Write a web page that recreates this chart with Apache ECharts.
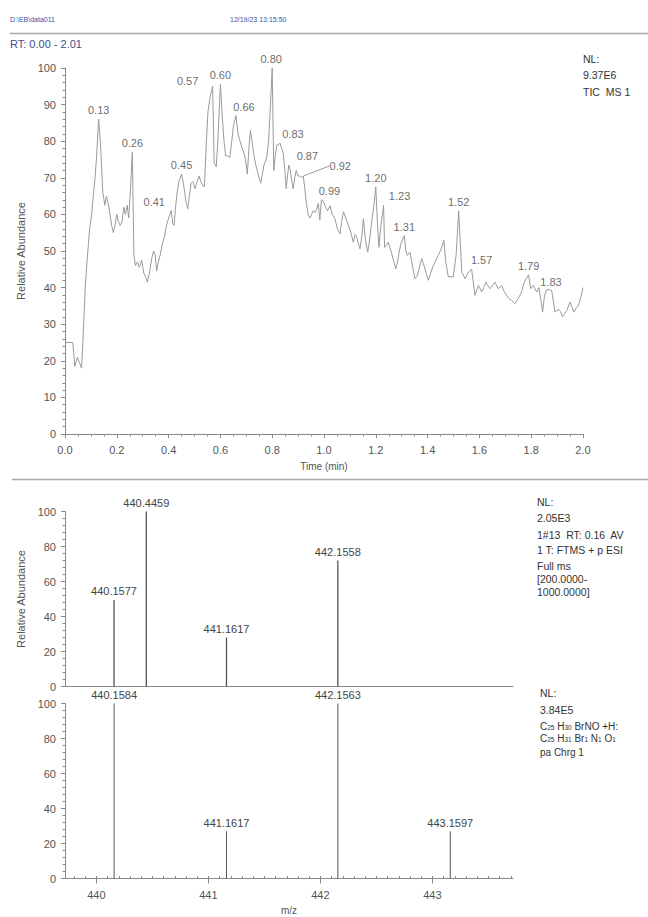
<!DOCTYPE html>
<html>
<head>
<meta charset="utf-8">
<script src="https://cdn.jsdelivr.net/npm/echarts@6/dist/echarts.min.js"></script>
<style>
  html, body { margin: 0; padding: 0; background: #fff; }
  #chart { width: 648px; height: 917px; }
</style>
</head>
<body>
<div id="chart"></div>
<script>
// Total ion chromatogram (retention time in min, relative abundance in %)
const ticTimes = [
  0.000, 0.010, 0.020, 0.030, 0.038, 0.048, 0.056, 0.064, 0.071, 0.078, 0.086, 0.095, 0.103, 0.109, 0.116, 0.122,
  0.130, 0.138, 0.146, 0.154, 0.160, 0.167, 0.174, 0.180, 0.187, 0.193, 0.200, 0.206, 0.213, 0.220, 0.227, 0.233,
  0.240, 0.246, 0.252, 0.260, 0.266, 0.272, 0.280, 0.287, 0.296, 0.304, 0.311, 0.318, 0.326, 0.335, 0.342, 0.348,
  0.354, 0.360, 0.368, 0.376, 0.384, 0.392, 0.400, 0.410, 0.416, 0.421, 0.427, 0.433, 0.440, 0.450, 0.456, 0.462,
  0.468, 0.474, 0.480, 0.487, 0.494, 0.502, 0.510, 0.518, 0.524, 0.532, 0.538, 0.546, 0.552, 0.560, 0.570, 0.576,
  0.584, 0.590, 0.600, 0.608, 0.614, 0.620, 0.628, 0.636, 0.644, 0.650, 0.660, 0.668, 0.676, 0.684, 0.690, 0.697,
  0.704, 0.710, 0.716, 0.722, 0.728, 0.735, 0.742, 0.749, 0.756, 0.762, 0.768, 0.774, 0.780, 0.786, 0.792, 0.800,
  0.806, 0.812, 0.818, 0.824, 0.830, 0.837, 0.843, 0.849, 0.854, 0.860, 0.864, 0.870, 0.876, 0.881, 0.887, 0.893,
  0.899, 0.906, 0.913, 0.920, 0.926, 0.932, 0.939, 0.946, 0.952, 0.958, 0.965, 0.972, 0.978, 0.984, 0.990, 0.998,
  1.006, 1.014, 1.023, 1.032, 1.042, 1.052, 1.062, 1.068, 1.075, 1.084, 1.094, 1.104, 1.113, 1.120, 1.126, 1.133,
  1.139, 1.146, 1.152, 1.160, 1.169, 1.176, 1.184, 1.192, 1.200, 1.206, 1.212, 1.218, 1.230, 1.234, 1.240, 1.248,
  1.254, 1.260, 1.268, 1.277, 1.284, 1.290, 1.297, 1.310, 1.316, 1.322, 1.332, 1.340, 1.351, 1.358, 1.364, 1.370,
  1.377, 1.384, 1.390, 1.396, 1.403, 1.412, 1.422, 1.432, 1.441, 1.452, 1.463, 1.470, 1.480, 1.490, 1.499, 1.510,
  1.520, 1.532, 1.545, 1.557, 1.570, 1.583, 1.596, 1.609, 1.617, 1.625, 1.633, 1.641, 1.650, 1.660, 1.673, 1.686,
  1.695, 1.705, 1.714, 1.724, 1.737, 1.750, 1.763, 1.773, 1.790, 1.798, 1.808, 1.821, 1.830, 1.844, 1.850, 1.857,
  1.868, 1.879, 1.892, 1.905, 1.913, 1.921, 1.930, 1.937, 1.950, 1.958, 1.965, 1.975, 1.982, 1.992, 2.000
];
const ticValues = [
  25, 25, 25, 25, 18.5, 21, 19.5, 18, 28, 40, 48, 56, 60, 65, 70, 76,
  86, 78, 66, 62.5, 65, 63, 60, 57, 55, 57, 60, 58, 57, 58, 62, 60,
  62.5, 59, 66, 77, 49, 46, 47, 45.5, 47.5, 44, 43, 41.5, 44, 48, 50, 49,
  44.5, 47, 49, 52, 54, 57, 59, 61, 57.5, 57, 62, 66, 69, 71, 69, 66,
  63, 61.5, 65, 68.5, 69, 67, 69, 70.5, 69, 68, 67.5, 80, 88, 92, 95, 74,
  73, 80, 95.5, 86, 80, 76, 76, 75.5, 80, 84, 87, 82, 80, 78, 77, 75,
  71, 78, 83, 80, 77, 74, 72, 70, 68.5, 71, 73.5, 74.5, 76, 80, 88, 100,
  72, 76, 79, 79, 79.5, 78, 76.5, 72, 67, 71, 73.5, 72, 69, 67, 70, 72,
  70.5, 70.5, 70, 70.5, 67, 63, 60, 59, 60, 61, 60.5, 61.5, 63, 58.5, 64, 63.5,
  62, 61, 62.4, 60, 58.8, 56, 54.7, 58, 60.7, 59, 57, 55, 52.4, 54.5, 53.8, 52,
  50.6, 54, 58.8, 53, 49.7, 53, 58, 62, 67.5, 58, 51, 56, 62.5, 51, 51.5, 52.4,
  51, 49.7, 47.5, 45.1, 47, 49.7, 52, 54.2, 50, 48.8, 49.7, 46.5, 42.4, 43, 44.2, 46,
  47.9, 46.5, 45.1, 43.5, 42, 44, 46, 47.5, 48.8, 50.5, 52.9, 47, 42.9, 43, 42.9, 48.8,
  61, 44.2, 42.4, 44.2, 45, 37.9, 40.6, 38.8, 40, 41.5, 40.5, 39.7, 40.5, 41.5, 39.7, 40.6,
  39, 37.9, 37, 36.5, 35.6, 37, 38.8, 41.5, 43.5, 39.7, 40.6, 38.8, 40, 33.3, 37, 39.2,
  39.5, 39.2, 33.3, 34.1, 33.5, 32, 33, 33.7, 36, 34.5, 33.3, 34.5, 35, 37.5, 40
];
// Retention times of the annotated peaks
const peakTimes = [0.13, 0.26, 0.41, 0.45, 0.57, 0.60, 0.66, 0.80, 0.83, 0.87, 0.92, 0.99,
                   1.20, 1.23, 1.31, 1.52, 1.57, 1.79, 1.83];

// Measured spectrum (scan 13, RT 0.16)
const measuredMz = [440.1577, 440.4459, 441.1617, 442.1558];
const measuredAbund = [49.5, 100, 28, 72];
// Simulated isotope pattern for C25H31BrNO
const theoryMz = [440.1584, 441.1617, 442.1563, 443.1597];
const theoryAbund = [100, 27, 100, 27];
// m/z tick labels
const mzTicks = [440, 441, 442, 443];

const FONT = "'Liberation Sans', Arial, sans-serif";
const AX = '#8a8a8a';
const TXT = '#444';

// Label nudges [dx, dy] so crowded peak labels do not collide
const labelNudge = {
  '0.41': [-17, 0], '0.57': [-25, 4], '0.66': [8, 0], '0.80': [-1, 0], '0.83': [13, 0],
  '0.87': [17, -5], '0.92': [37, -1], '0.99': [8, 0], '1.23': [16, 0], '1.57': [10, 0], '1.83': [12, 3]
};

const ticData = ticTimes.map((t, i) => [t, ticValues[i]]);
const peakData = peakTimes.map(t => {
  const i = ticTimes.findIndex(v => Math.abs(v - t) < 1e-9);
  const item = { value: [t, ticValues[i]] };
  if (t === 0.92) item.labelLine = { show: true, lineStyle: { color: '#999', width: 1 } };
  return item;
});

const mzMin = 439.72, mzMax = 443.72;
const mzMinor = [];
for (let k = 4398; k <= 4437; k++) mzMinor.push(k / 10);

function valueAxisY(grid, interval, minorSplit, withName) {
  return {
    gridIndex: grid, type: 'value', min: 0, max: 100, interval: interval,
    axisLine: { show: true, lineStyle: { color: AX, width: 1 } },
    axisTick: { show: true, length: 4, lineStyle: { color: AX } },
    minorTick: { show: true, splitNumber: minorSplit, length: 2.5, lineStyle: { color: AX } },
    splitLine: { show: false },
    axisLabel: { color: '#555', fontSize: 11, fontFamily: FONT, margin: 9 },
    name: withName ? 'Relative Abundance' : '',
    nameLocation: 'middle', nameGap: 35, nameRotate: 90,
    nameTextStyle: { color: '#555', fontSize: 11, fontFamily: FONT }
  };
}

function stickSeries(xi, yi, mz, ab, width) {
  return {
    type: 'custom', xAxisIndex: xi, yAxisIndex: yi,
    data: mz.map((m, i) => [m, ab[i]]),
    silent: true,
    renderItem: function (params, api) {
      const m = api.value(0), a = api.value(1);
      const top = api.coord([m, a]);
      const base = api.coord([m, 0]);
      return {
        type: 'group',
        children: [
          { type: 'line', shape: { x1: top[0], y1: top[1], x2: base[0], y2: base[1] },
            style: { stroke: '#555', lineWidth: width } },
          { type: 'text', x: top[0], y: top[1] - 3,
            style: { text: m.toFixed(4), fill: TXT, font: '11px ' + FONT, align: 'center', verticalAlign: 'bottom' } }
        ]
      };
    }
  };
}

function sideText(x, y, text, extra) {
  return Object.assign({
    type: 'text', x: x, y: y, silent: true,
    style: { text: text, fill: '#333', font: '10.5px ' + FONT, verticalAlign: 'middle' }
  }, extra || {});
}

// Formula line with subscript counts
const formulaRich = {
  a: { fill: '#333', font: '10px ' + FONT, lineHeight: 11, verticalAlign: 'bottom' },
  b: { fill: '#333', font: '6.5px ' + FONT, lineHeight: 11, verticalAlign: 'bottom' }
};

const chart = echarts.init(document.getElementById('chart'), null, { renderer: 'svg' });

chart.setOption({
  animation: false,
  backgroundColor: '#fff',
  grid: [
    { left: 65, top: 68, width: 518, height: 366 },
    { left: 65, top: 511.5, width: 448, height: 175 },
    { left: 65, top: 703.5, width: 448, height: 175 }
  ],
  xAxis: [
    {
      gridIndex: 0, type: 'value', min: 0, max: 2, interval: 0.2,
      axisLine: { show: true, onZero: false, lineStyle: { color: AX } },
      axisTick: { show: true, length: 4, lineStyle: { color: AX } },
      minorTick: { show: true, splitNumber: 4, length: 2.5, lineStyle: { color: AX } },
      splitLine: { show: false },
      axisLabel: { color: '#555', fontSize: 11, fontFamily: FONT, margin: 10, formatter: v => v.toFixed(1) },
      name: 'Time (min)', nameLocation: 'middle', nameGap: 27,
      nameTextStyle: { color: '#555', fontSize: 10, fontFamily: FONT }
    },
    {
      gridIndex: 1, type: 'value', min: mzMin, max: mzMax,
      axisLine: { show: true, onZero: false, lineStyle: { color: AX } },
      axisTick: { show: false }, axisLabel: { show: false }, splitLine: { show: false }
    },
    {
      gridIndex: 2, type: 'value', min: mzMin, max: mzMax,
      axisLine: { show: true, onZero: false, lineStyle: { color: AX } },
      axisTick: { show: true, length: 5, customValues: mzTicks, lineStyle: { color: AX } },
      axisLabel: { color: '#555', fontSize: 11, fontFamily: FONT, margin: 11, customValues: mzTicks },
      splitLine: { show: false },
      name: 'm/z', nameLocation: 'middle', nameGap: 27,
      nameTextStyle: { color: '#555', fontSize: 10, fontFamily: FONT }
    },
    {
      gridIndex: 2, type: 'value', min: mzMin, max: mzMax,
      axisLine: { show: false },
      axisTick: { show: true, length: 2.5, customValues: mzMinor, lineStyle: { color: AX } },
      axisLabel: { show: false }, splitLine: { show: false }
    }
  ],
  yAxis: [
    valueAxisY(0, 10, 5, true),
    valueAxisY(1, 20, 5, true),
    valueAxisY(2, 20, 5, false)
  ],
  series: [
    {
      type: 'line', xAxisIndex: 0, yAxisIndex: 0, data: ticData,
      showSymbol: false, silent: true,
      lineStyle: { color: '#9a9a9a', width: 1 }
    },
    {
      type: 'scatter', xAxisIndex: 0, yAxisIndex: 0, data: peakData,
      symbolSize: 1, itemStyle: { color: 'rgba(0,0,0,0)' }, silent: true,
      label: {
        show: true, position: 'top', distance: 3,
        color: TXT, fontSize: 11, fontFamily: FONT,
        formatter: p => p.value[0].toFixed(2)
      },
      labelLayout: function (params) {
        const key = peakTimes[params.dataIndex].toFixed(2);
        const n = labelNudge[key] || [0, 0];
        return { dx: n[0], dy: n[1] };
      }
    },
    stickSeries(1, 1, measuredMz, measuredAbund, 1.3),
    stickSeries(2, 2, theoryMz, theoryAbund, 1)
  ],
  graphic: [
    sideText(10, 19, 'D:\\EB\\data011', { style: { text: 'D:\\EB\\data011', fill: '#3550a8', font: '7px ' + FONT, verticalAlign: 'middle' } }),
    sideText(230, 19, '12/19/23 13:15:50', { style: { text: '12/19/23 13:15:50', fill: '#3550a8', font: '7px ' + FONT, verticalAlign: 'middle' } }),
    { type: 'line', silent: true, shape: { x1: 10, y1: 33.5, x2: 648, y2: 33.5 }, style: { stroke: '#a8a8a8', lineWidth: 1.5 } },
    sideText(10, 44, 'RT: 0.00 - 2.01', { style: { text: 'RT: 0.00 - 2.01', fill: '#3d4f8f', font: '11px ' + FONT, verticalAlign: 'middle' } }),
    { type: 'line', silent: true, shape: { x1: 12, y1: 479.5, x2: 648, y2: 479.5 }, style: { stroke: '#a8a8a8', lineWidth: 1.5 } },

    sideText(583, 59, 'NL:'),
    sideText(583, 75, '9.37E6'),
    sideText(583, 92, 'TIC  MS 1'),

    sideText(537, 502, 'NL:'),
    sideText(537, 518, '2.05E3'),
    sideText(537, 535, '1#13  RT: 0.16  AV'),
    sideText(537, 550, '1 T: FTMS + p ESI'),
    sideText(537, 566, 'Full ms'),
    sideText(537, 579, '[200.0000-'),
    sideText(537, 592, '1000.0000]'),

    sideText(540, 693, 'NL:'),
    sideText(540, 710, '3.84E5'),
    {
      type: 'text', x: 540, y: 720, silent: true,
      style: { text: '{a|C}{b|25}{a| H}{b|30}{a| BrNO +H:}', verticalAlign: 'top', rich: formulaRich }
    },
    {
      type: 'text', x: 540, y: 732, silent: true,
      style: { text: '{a|C}{b|25}{a| H}{b|31}{a| Br}{b|1}{a| N}{b|1}{a| O}{b|1}', verticalAlign: 'top', rich: formulaRich }
    },
    sideText(540, 752, 'pa Chrg 1', { style: { text: 'pa Chrg 1', fill: '#333', font: '10px ' + FONT, verticalAlign: 'middle' } })
  ]
});
</script>
</body>
</html>
